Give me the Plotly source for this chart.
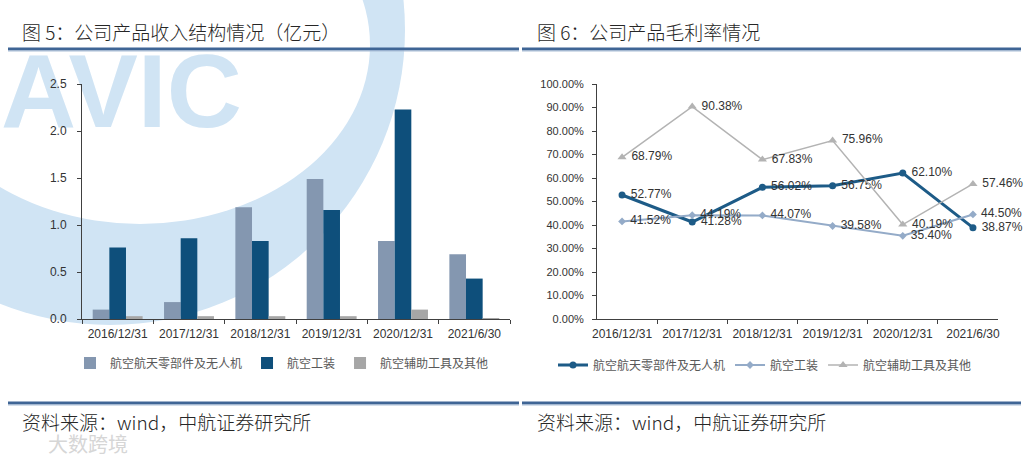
import plotly.graph_objects as go

# ---- data ----
categories = ["2016/12/31", "2017/12/31", "2018/12/31", "2019/12/31", "2020/12/31", "2021/6/30"]
series_names = ["航空航天零部件及无人机", "航空工装", "航空辅助工具及其他"]

# revenue, 亿元
revenue_parts = [0.10, 0.18, 1.19, 1.49, 0.83, 0.69]
revenue_tooling = [0.76, 0.86, 0.83, 1.16, 2.23, 0.43]
revenue_other = [0.03, 0.03, 0.03, 0.03, 0.10, 0.01]

# gross margin, %
margin_parts = [52.77, 41.28, 56.02, 56.75, 62.10, 38.87]
margin_tooling = [41.52, 44.19, 44.07, 39.58, 35.40, 44.50]
margin_other = [68.79, 90.38, 67.83, 75.96, 40.19, 57.46]

W, H = 1028, 462


def px_x(v):
    return v / W


def px_y(v):
    return 1 - v / H


fig = go.Figure()

# background watermark layer (first subplot, drawn underneath the charts)
fig.add_trace(go.Scatter(
    x=[1], y=[101], mode="text", text=["<b>AVIC</b>"],
    textposition="middle right",
    textfont=dict(family="Liberation Sans", size=104, color="#d0e4f4"),
    cliponaxis=False, hoverinfo="skip", showlegend=False,
    xaxis="x", yaxis="y",
))

# revenue bars
bar_colors = ["#8497b0", "#0e4f7b", "#a6a6a6"]
for name, vals, col in zip(series_names, [revenue_parts, revenue_tooling, revenue_other], bar_colors):
    fig.add_trace(go.Bar(
        x=categories, y=vals, name=name, marker=dict(color=col, line=dict(width=0)),
        xaxis="x2", yaxis="y2", legend="legend",
    ))

# margin lines
line_styles = [
    dict(color="#1d5b87", width=3, symbol="circle", size=7),
    dict(color="#94abc8", width=2, symbol="diamond", size=6),
    dict(color="#b3b3b3", width=1.5, symbol="triangle-up", size=8),
]
for name, vals, st in zip(series_names, [margin_parts, margin_tooling, margin_other], line_styles):
    fig.add_trace(go.Scatter(
        x=categories, y=vals, name=name, mode="lines+markers+text",
        text=[f"\u00a0{v:.2f}%" for v in vals], textposition="middle right",
        textfont=dict(family="Liberation Sans", size=12, color="#333333"),
        line=dict(color=st["color"], width=st["width"]),
        marker=dict(color=st["color"], symbol=st["symbol"], size=st["size"]),
        cliponaxis=False, xaxis="x3", yaxis="y3", legend="legend2",
    ))

axis_common = dict(
    showline=True, linecolor="#404040", linewidth=1, ticks="outside",
    ticklen=4, tickcolor="#404040", showgrid=False, zeroline=False, automargin=False,
)

shapes = [
    # watermark crescent
    dict(type="circle", xref="paper", yref="paper", layer="below",
         x0=px_x(110 - 295), x1=px_x(110 + 295), y0=px_y(325), y1=px_y(-265),
         fillcolor="#d0e4f4", line=dict(width=0)),
    dict(type="circle", xref="paper", yref="paper", layer="below",
         x0=px_x(140 - 230), x1=px_x(140 + 230), y0=px_y(224), y1=px_y(45 - 179),
         fillcolor="white", line=dict(width=0)),
]
for yy in (49, 403):
    for xa, xb in ((8, 519), (522, 1021)):
        shapes.append(dict(type="line", xref="paper", yref="paper",
                           x0=px_x(xa), x1=px_x(xb), y0=px_y(yy), y1=px_y(yy),
                           line=dict(color="#3f6595", width=3)))
        shapes.append(dict(type="line", xref="paper", yref="paper",
                           x0=px_x(xa), x1=px_x(xb), y0=px_y(yy + 2), y1=px_y(yy + 2),
                           line=dict(color="#a9bdd6", width=1)))

cjk = "Noto Sans CJK SC"
annotations = []
for x0, txt in ((20, "图 5：公司产品收入结构情况（亿元）"), (535, "图 6：公司产品毛利率情况")):
    annotations.append(dict(x=px_x(x0), y=px_y(31), xref="paper", yref="paper",
                            text=txt, showarrow=False, xanchor="left", yanchor="middle",
                            font=dict(family=cjk, size=19, color="#262626", weight=300)))
for x0 in (20, 535):
    annotations.append(dict(x=px_x(x0), y=px_y(421), xref="paper", yref="paper",
                            text="资料来源：wind，中航证券研究所", showarrow=False,
                            xanchor="left", yanchor="middle",
                            font=dict(family=cjk, size=19, color="#262626", weight=300)))
annotations.append(dict(x=px_x(46), y=px_y(443), xref="paper", yref="paper",
                        text="大数跨境", showarrow=False, xanchor="left", yanchor="middle",
                        font=dict(family=cjk, size=20, color="#d6d6d6")))

fig.update_layout(
    template="none",
    width=W, height=H,
    margin=dict(l=0, r=0, t=0, b=0, autoexpand=False),
    paper_bgcolor="white", plot_bgcolor="rgba(0,0,0,0)",
    font=dict(family="Liberation Sans", color="#333333"),
    barmode="group", bargap=0.3, bargroupgap=0,
    xaxis=dict(domain=[0, 1], range=[0, W], visible=False, fixedrange=True),
    yaxis=dict(domain=[0, 1], range=[H, 0], visible=False, fixedrange=True),
    xaxis2=dict(domain=[px_x(82), px_x(510)], anchor="y2", tickson="boundaries",
                ticklabelstandoff=4,
                tickfont=dict(size=12, color="#333333"), **axis_common),
    yaxis2=dict(domain=[px_y(319), px_y(84)], anchor="x2", range=[0, 2.5], dtick=0.5,
                tickformat=".1f", ticklabelstandoff=8,
                tickfont=dict(size=12, color="#333333"), **axis_common),
    xaxis3=dict(domain=[px_x(597), px_x(998)], anchor="y3", tickson="boundaries",
                ticklabelstandoff=4,
                tickfont=dict(size=12, color="#333333"), **axis_common),
    yaxis3=dict(domain=[px_y(319), px_y(84)], anchor="x3", range=[0, 100], dtick=10,
                tickformat=".2f", ticksuffix="%", ticklabelstandoff=6,
                tickfont=dict(size=11, color="#333333"), **axis_common),
    legend=dict(orientation="h", x=px_x(70), y=px_y(363), xanchor="left", yanchor="middle",
                font=dict(family=cjk, size=12, color="#595959"), bgcolor="rgba(0,0,0,0)",
                itemwidth=30),
    legend2=dict(orientation="h", x=px_x(553), y=px_y(365), xanchor="left", yanchor="middle",
                 font=dict(family=cjk, size=12, color="#595959"), bgcolor="rgba(0,0,0,0)",
                 itemwidth=30),
    shapes=shapes,
    annotations=annotations,
)

pin_plot = (
    "document.body.style.margin='0';"
    "document.body.style.overflow='hidden';"
    "var d=document.getElementById('{plot_id}');"
    "d.style.position='fixed';d.style.left='0';d.style.top='0';"
)
fig.write_html("out.html", config={"displayModeBar": False}, post_script=pin_plot)
